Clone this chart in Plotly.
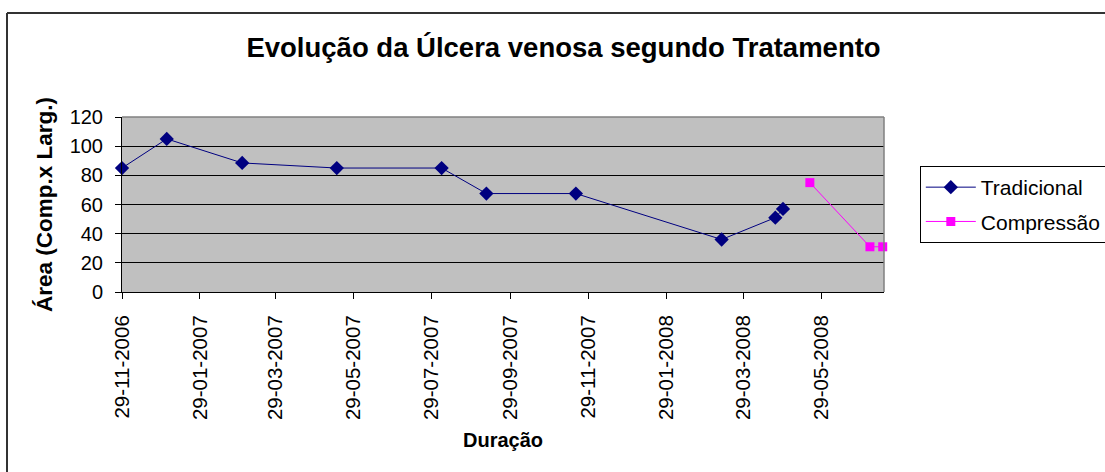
import plotly.graph_objects as go

# ---- data ----
trad_dates = ["2006-11-29", "2007-01-03", "2007-03-03", "2007-05-16", "2007-08-06",
              "2007-09-10", "2007-11-19", "2008-03-12", "2008-04-23", "2008-04-29"]
trad_values = [85, 105, 88.5, 85, 85, 67.5, 67.5, 36, 51, 57]

comp_dates = ["2008-05-20", "2008-07-06", "2008-07-16"]
comp_values = [75, 31, 31]

tick_dates = ["2006-11-29", "2007-01-29", "2007-03-29", "2007-05-29", "2007-07-29",
              "2007-09-29", "2007-11-29", "2008-01-29", "2008-03-29", "2008-05-29"]
tick_labels = ["29-11-2006", "29-01-2007", "29-03-2007", "29-05-2007", "29-07-2007",
               "29-09-2007", "29-11-2007", "29-01-2008", "29-03-2008", "29-05-2008"]

FONT = "Arial, 'Liberation Sans', sans-serif"

fig = go.Figure()
fig.add_trace(go.Scatter(
    x=trad_dates, y=trad_values, name="Tradicional", mode="lines+markers",
    line=dict(color="#000080", width=1),
    marker=dict(symbol="diamond", size=11, color="#000080"),
    cliponaxis=False, legendgroup="a"))
fig.add_trace(go.Scatter(
    x=comp_dates, y=comp_values, name="Compressão", mode="lines+markers",
    line=dict(color="#FF00FF", width=1),
    marker=dict(symbol="square", size=9, color="#FF00FF"),
    cliponaxis=False, legendgroup="b"))

fig.update_layout(
    width=1105, height=472,
    margin=dict(l=122, r=221, t=117, b=180, autoexpand=False),
    paper_bgcolor="white", plot_bgcolor="#C0C0C0",
    font=dict(family=FONT, color="black", size=19),
    title=dict(text="<b>Evolução da Úlcera venosa segundo Tratamento</b>",
               x=0.51, xanchor="center", y=1 - 47 / 472, yanchor="middle",
               font=dict(size=27.5, family=FONT, color="black")),
    legend=dict(x=1.047, xanchor="left", y=0.72, yanchor="top",
                bordercolor="black", borderwidth=1, bgcolor="white",
                font=dict(size=21, family=FONT), tracegroupgap=4,
                itemwidth=50, traceorder="grouped"),
    showlegend=True,
)

fig.update_xaxes(
    type="date", range=["2006-11-29", "2008-07-17"],
    tickvals=tick_dates, ticktext=tick_labels, tickangle=-90,
    ticks="outside", ticklen=6, tickcolor="black", tickwidth=1,
    showline=True, linecolor="black", linewidth=1, showgrid=False, zeroline=False,
    tickfont=dict(size=20.5, family=FONT), ticklabelstandoff=8,
    title=dict(text="<b>Duração</b>", font=dict(size=20, family=FONT), standoff=13),
)
fig.update_yaxes(
    range=[0, 120], dtick=20, tick0=0,
    ticks="outside", ticklen=6, tickcolor="black", tickwidth=1,
    showline=True, linecolor="black", linewidth=1,
    showgrid=True, gridcolor="black", gridwidth=1, zeroline=False,
    tickfont=dict(size=20, family=FONT), ticklabelstandoff=8,
    title=dict(text="<b>Área (Comp.x Larg.)</b>", font=dict(size=22.5, family=FONT), standoff=10),
)

# plot-area border (top and right) in gray, chart-area border (top and left)
fig.add_shape(type="line", xref="paper", yref="paper", x0=0, x1=1, y0=1, y1=1,
              line=dict(color="#808080", width=1.5))
fig.add_shape(type="line", xref="paper", yref="paper", x0=1, x1=1, y0=0, y1=1,
              line=dict(color="#808080", width=1.5))
fig.add_shape(type="line", xref="paper", yref="paper",
              x0=(7 - 122) / 762, x1=(1105 - 122) / 762,
              y0=(292 - 13) / 175, y1=(292 - 13) / 175,
              line=dict(color="#333333", width=2))
fig.add_shape(type="line", xref="paper", yref="paper",
              x0=(7 - 122) / 762, x1=(7 - 122) / 762,
              y0=(292 - 13) / 175, y1=(292 - 480) / 175,
              line=dict(color="#333333", width=2))

fig.write_html("out.html", config={"displayModeBar": False},
               post_script="document.body.style.margin='0';")
